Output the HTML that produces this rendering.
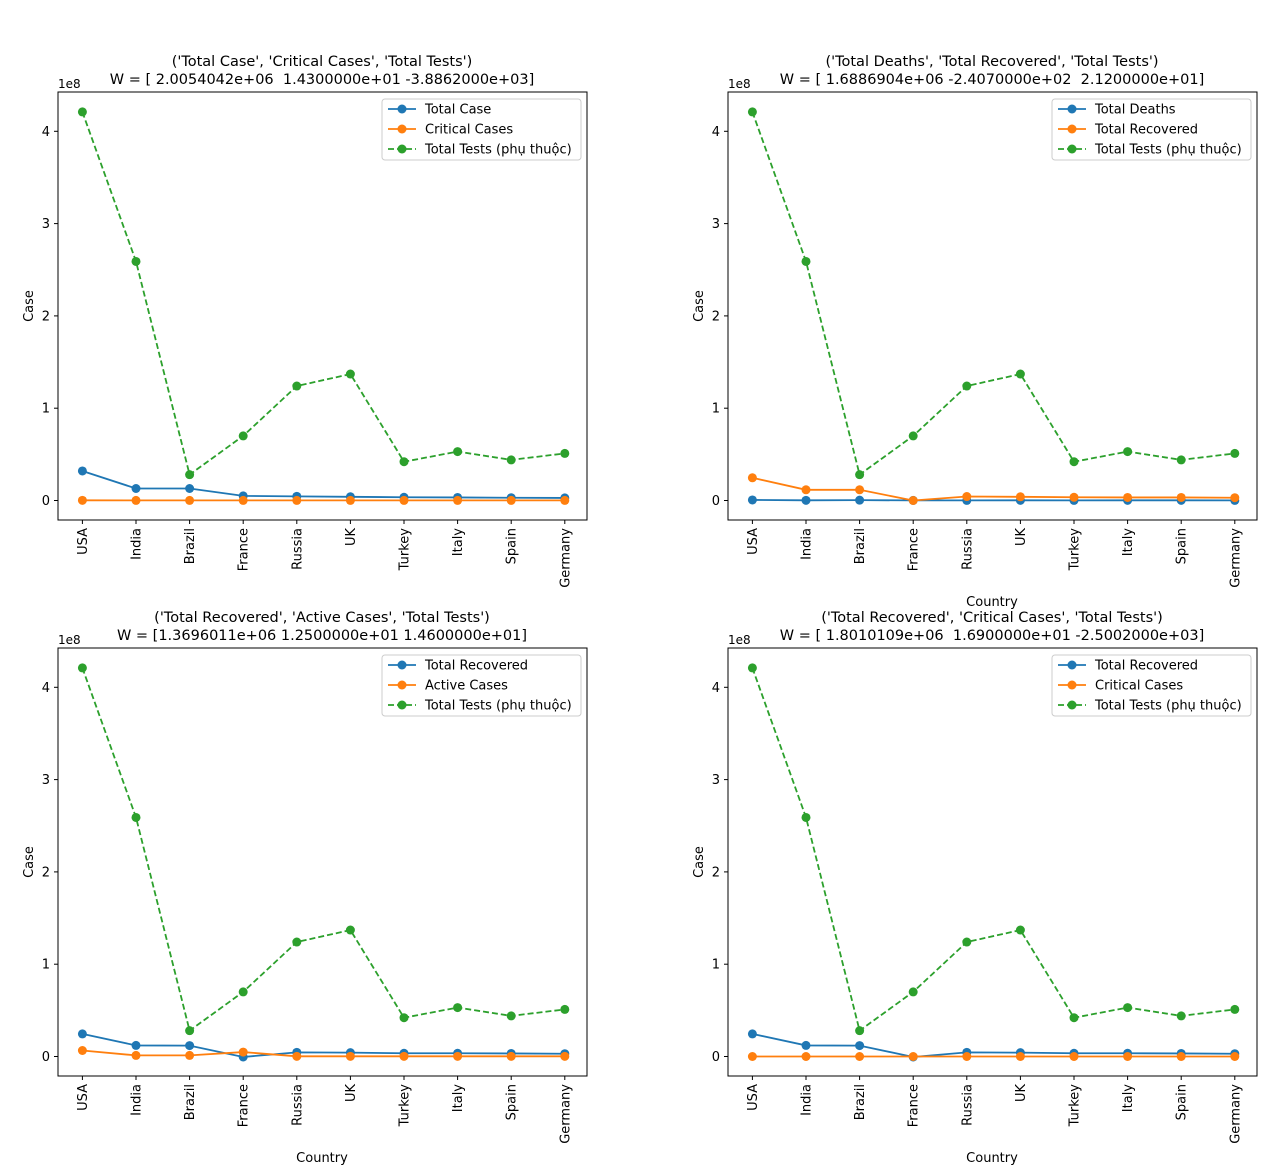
<!DOCTYPE html>
<html><head><meta charset="utf-8"><style>
body{margin:0;background:#fff;}
svg{display:block;font-family:"DejaVu Sans","Liberation Sans",sans-serif;}
svg text{white-space:pre;}
</style></head><body>
<svg id="chart" width="1267" height="1174" viewBox="0 0 1267 1174"></svg>
<script>
const countries = ["USA","India","Brazil","France","Russia","UK","Turkey","Italy","Spain","Germany"];
const yTicks = [0,1,2,3,4];
const totalTests = [4.21,2.59,0.28,0.70,1.24,1.37,0.42,0.53,0.44,0.51];
const p1Blue = [0.32,0.13,0.13,0.05,0.045,0.04,0.035,0.033,0.03,0.028];
const p1Orange = [0.002,0.001,0.001,0.001,0.001,0.001,0.001,0.001,0.001,0.001];
const p2Blue = [0.006,0.002,0.004,0.001,0.001,0.002,0.001,0.002,0.002,0.001];
const p2Orange = [0.246,0.116,0.116,0.0,0.043,0.04,0.035,0.033,0.033,0.03];
const p3Blue = [0.245,0.12,0.118,-0.005,0.045,0.042,0.035,0.035,0.033,0.03];
const p3Orange = [0.065,0.012,0.012,0.048,0.002,0.002,0.002,0.002,0.002,0.002];
const p4Blue = [0.245,0.12,0.118,-0.005,0.045,0.042,0.035,0.035,0.033,0.03];
const p4Orange = [0.0,0.0,0.0,0.0,0.0,0.0,0.0,0.0,0.0,0.0];

const panels = [
 {ox:0,oy:0,t1:"('Total Case', 'Critical Cases', 'Total Tests')",t2:"W = [ 2.0054042e+06  1.4300000e+01 -3.8862000e+03]",l1:"Total Case",l2:"Critical Cases",b:p1Blue,o:p1Orange,xl:false},
 {ox:670,oy:0,t1:"('Total Deaths', 'Total Recovered', 'Total Tests')",t2:"W = [ 1.6886904e+06 -2.4070000e+02  2.1200000e+01]",l1:"Total Deaths",l2:"Total Recovered",b:p2Blue,o:p2Orange,xl:true},
 {ox:0,oy:556,t1:"('Total Recovered', 'Active Cases', 'Total Tests')",t2:"W = [1.3696011e+06 1.2500000e+01 1.4600000e+01]",l1:"Total Recovered",l2:"Active Cases",b:p3Blue,o:p3Orange,xl:true},
 {ox:670,oy:556,t1:"('Total Recovered', 'Critical Cases', 'Total Tests')",t2:"W = [ 1.8010109e+06  1.6900000e+01 -2.5002000e+03]",l1:"Total Recovered",l2:"Critical Cases",b:p4Blue,o:p4Orange,xl:true}
];
const NS="http://www.w3.org/2000/svg";
const svg=document.getElementById('chart');
function mk(tag,attrs,parent,text){const e=document.createElementNS(NS,tag);for(const k in attrs)e.setAttribute(k,attrs[k]);if(text!==undefined)e.textContent=text;(parent||svg).appendChild(e);return e;}
const C={b:"#1f77b4",o:"#ff7f0e",g:"#2ca02c"};
panels.forEach((p,pi)=>{
  const g=mk('g',{transform:`translate(${p.ox},${p.oy})`});
  
  
  const L=58,R=587,T=92,B=520;
  const xs=i=>82.4+i*53.6;
  const ys=v=>500.5-v*92.3;
  let t=mk('text',{x:322,y:66,'text-anchor':'middle','font-size':14.5,fill:'#000'},g,p.t1);
  
  t=mk('text',{x:322,y:84,'text-anchor':'middle','font-size':14.5,fill:'#000'},g,p.t2);
  
  t=mk('text',{x:58,y:88,'font-size':12,fill:'#000'},g,"1e8");
  
  yTicks.forEach(v=>{
    const y=ys(v);
    mk('line',{x1:L-4,x2:L,y1:y,y2:y,stroke:'#000','stroke-width':1},g);
    const tt=mk('text',{x:L-8,y:y+4.5,'text-anchor':'end','font-size':13},g,String(v));
    
  });
  countries.forEach((c,i)=>{
    const x=xs(i);
    mk('line',{x1:x,x2:x,y1:B,y2:B+4,stroke:'#000','stroke-width':1},g);
    const tt=mk('text',{x:0,y:0,'text-anchor':'end','font-size':13,transform:`translate(${x+4.5},${B+8}) rotate(-90)`},g,c);
    
  });
  t=mk('text',{x:0,y:0,'text-anchor':'middle','font-size':13,transform:`translate(33,306) rotate(-90)`},g,"Case");
  
  if(p.xl){t=mk('text',{x:322,y:606,'text-anchor':'middle','font-size':13},g,"Country");
  }
  function series(vals,col,dash,name){
    const pts=vals.map((v,i)=>xs(i)+','+ys(v)).join(' ');
    const pl=mk('polyline',{points:pts,fill:'none',stroke:col,'stroke-width':1.8,'stroke-dasharray':dash?'6,3':'none'},g);
    
    vals.forEach((v,i)=>{const c=mk('circle',{cx:xs(i),cy:ys(v),r:4.5,fill:col},g);
      });
  }
  series(p.b,C.b,false,'series-blue');
  series(p.o,C.o,false,'series-orange');
  series(totalTests,C.g,true,'series-total-tests');
  const fr=mk('rect',{x:L,y:T,width:R-L,height:B-T,fill:'none',stroke:'#000','stroke-width':1},g);
  
  const lg=mk('g',{},g);
  
  mk('rect',{x:382,y:99,width:199,height:61,rx:3,fill:'#fff',stroke:'#ccc','stroke-width':1},lg);
  [[p.l1,C.b,false],[p.l2,C.o,false],["Total Tests (phụ thuộc)",C.g,true]].forEach((e,k)=>{
    const y=109+k*20;
    const eg=mk('g',{},lg);
    
    mk('line',{x1:388,x2:416,y1:y,y2:y,stroke:e[1],'stroke-width':1.8,'stroke-dasharray':e[2]?'6,3':'none'},eg);
    mk('circle',{cx:402,cy:y,r:4.5,fill:e[1]},eg);
    mk('text',{x:425,y:y+4.5,'font-size':13},eg,e[0]);
  });
});
</script>
</body></html>
